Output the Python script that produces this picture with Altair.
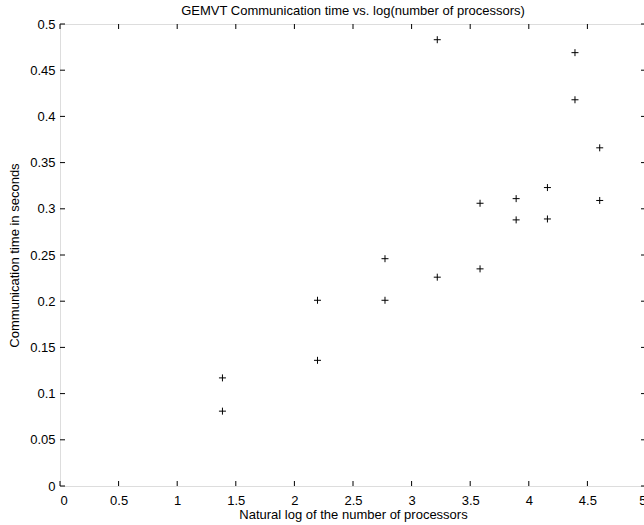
import altair as alt
import pandas as pd

# data
log_procs = [1.386, 1.386, 2.197, 2.197, 2.773, 2.773, 3.219, 3.219,
             3.584, 3.584, 3.892, 3.892, 4.159, 4.159, 4.394, 4.394, 4.605, 4.605]
comm_time = [0.117, 0.081, 0.201, 0.136, 0.246, 0.201, 0.483, 0.226,
             0.306, 0.235, 0.311, 0.288, 0.323, 0.289, 0.469, 0.418, 0.366, 0.309]
x_ticks = [0, 0.5, 1, 1.5, 2, 2.5, 3, 3.5, 4, 4.5, 5]
y_ticks = [0, 0.05, 0.1, 0.15, 0.2, 0.25, 0.3, 0.35, 0.4, 0.45, 0.5]

W, H, T = 586, 462, 5
FONT = "Liberation Sans"

df = pd.DataFrame({"x": log_procs, "y": comm_time})
xt = pd.DataFrame({"x": x_ticks})
yt = pd.DataFrame({"y": y_ticks})

xscale = alt.Scale(domain=[0, 5], nice=False, zero=False)
yscale = alt.Scale(domain=[0, 0.5], nice=False, zero=False)
common = dict(format="~g", tickSize=0, domain=False, grid=False,
              labelFont=FONT, labelFontSize=13, labelColor="black",
              titleFont=FONT, titleFontSize=13, titleFontWeight="normal",
              titleColor="black")
xaxis = alt.Axis(values=x_ticks, labelPadding=8,
                 title="Natural log of the number of processors",
                 titlePadding=1, **common)
yaxis = alt.Axis(values=y_ticks, labelPadding=5,
                 title="Communication time in seconds",
                 titlePadding=8, **common)

X = lambda: alt.X("x:Q", scale=xscale, axis=xaxis)
Y = lambda: alt.Y("y:Q", scale=yscale, axis=yaxis)

points = alt.Chart(df).mark_point(
    shape="M-1,0L1,0M0,-1L0,1", size=49, filled=False, color="black",
    strokeWidth=1, opacity=1
).encode(x=X(), y=Y())

left = alt.Chart(yt).mark_rule(color="black", strokeWidth=1).encode(
    y=Y(), x=alt.value(0), x2=alt.value(T))
right = alt.Chart(yt).mark_rule(color="black", strokeWidth=1).encode(
    y=Y(), x=alt.value(W - T), x2=alt.value(W))
bottom = alt.Chart(xt).mark_rule(color="black", strokeWidth=1).encode(
    x=X(), y=alt.value(H), y2=alt.value(H - T))
top = alt.Chart(xt).mark_rule(color="black", strokeWidth=1).encode(
    x=X(), y=alt.value(0), y2=alt.value(T))

chart = alt.layer(points, left, right, bottom, top).properties(
    width=W, height=H,
    title=alt.TitleParams("GEMVT Communication time vs. log(number of processors)",
                          fontSize=13, font=FONT, fontWeight="normal",
                          color="black", offset=0, anchor="middle"),
    autosize=alt.AutoSizeParams(type="none"),
    padding={"left": 60, "top": 24, "right": -2, "bottom": 39},
).configure_view(stroke="black", strokeWidth=1).configure(background="white")

chart.save("out.html", embed_options={"renderer": "svg", "actions": False})
